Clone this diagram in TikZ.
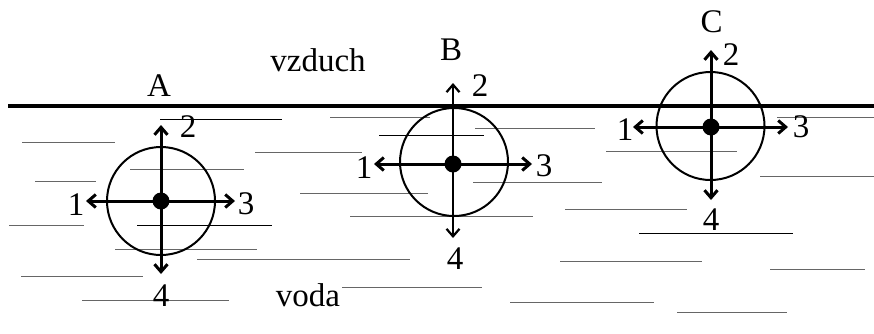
\documentclass[tikz,border=0pt]{standalone}
\usepackage{fontspec}
\setmainfont{Liberation Serif}
\usetikzlibrary{arrows.meta}

\begin{document}
\begin{tikzpicture}[
    x=1pt, y=-1pt,
    font=\fontsize{33}{36}\selectfont,
    >={Straight Barb[length=7.5pt,width=13pt]},
    tag/.style={anchor=base, inner sep=0pt},
    water/.style={draw=black!60, line width=1pt},
    darkwater/.style={draw=black, line width=0.9pt},
    surface/.style={draw=black, line width=3.2pt},
    bubble/.style={circle, draw=black, line width=2pt, minimum size=108pt, inner sep=0pt},
    dot/.style={circle, fill=black, minimum size=17pt, inner sep=0pt},
    force/.style={->, line width=3pt},
    thinforce/.style={->, line width=2.2pt}
]
    \useasboundingbox (0,0) rectangle (874,333);

    % water
    \draw[darkwater] (160,119.3) -- (282,119.3);
    \draw[water] (22,142.7) -- (115,142.7);
    \draw[water] (255,152.7) -- (362,152.7);
    \draw[water] (130,169) -- (244,169);
    \draw[water] (35,181.7) -- (96,181.7);
    \draw[water] (9,225) -- (84,225);
    \draw[darkwater] (137,225) -- (272,225);
    \draw[water] (115,249) -- (257,249);
    \draw[water] (197,259.3) -- (410,259.3);
    \draw[water] (21,276.7) -- (143,276.7);
    \draw[water] (82,300.5) -- (229,300.5);
    \draw[water] (330,117) -- (430,117);
    \draw[water] (475,128.8) -- (595,128.8);
    \draw[darkwater] (379,135.3) -- (484,135.3);
    \draw[water] (300,193.3) -- (428,193.3);
    \draw[water] (473,182.5) -- (602,182.5);
    \draw[water] (350,216.7) -- (533,216.7);
    \draw[water] (565,209.7) -- (687,209.7);
    \draw[water] (560,261.2) -- (702,261.2);
    \draw[water] (342,287.5) -- (482,287.5);
    \draw[water] (510,302) -- (654,302);
    \draw[water] (606,151.7) -- (737,151.7);
    \draw[water] (777,117.3) -- (874,117.3);
    \draw[water] (760,176.7) -- (874,176.7);
    \draw[darkwater] (639,233.3) -- (793,233.3);
    \draw[water] (770,269.3) -- (865,269.3);
    \draw[water] (677,312.7) -- (787,312.7);

    % surface
    \coordinate (shoreL) at (8,106);
    \coordinate (shoreR) at (874,106);
    \draw[surface] (shoreL) -- (shoreR);

    \node[tag] (air) at (318,71.7) {vzduch};
    \node[tag] (water) at (308,306) {voda};

    % A
    \node[dot] (a) at (161,201) {};
    \node[bubble] (ringA) at (a) {};
    \coordinate (a1) at (86,201);
    \coordinate (a2) at (161,125);
    \coordinate (a3) at (235,201);
    \coordinate (a4) at (161,274);
    \draw[force] (a.center) -- (a1);
    \draw[force] (a.center) -- (a2);
    \draw[force] (a.center) -- (a3);
    \draw[force] (a.center) -- (a4);
    \node[tag] (nameA) at (159,96.7) {A};
    \node[tag] (tagA1) at (76,215) {1};
    \node[tag] (tagA2) at (188,137.7) {2};
    \node[tag] (tagA3) at (246,214.5) {3};
    \node[tag] (tagA4) at (161,306.7) {4};

    % B
    \node[dot] (b) at (453,164) {};
    \node[bubble] (ringB) at (454,162) {};
    \coordinate (b1) at (374,164);
    \coordinate (b2) at (453,83);
    \coordinate (b3) at (532,164);
    \coordinate (b4) at (453,238);
    \draw[force] (b.center) -- (b1);
    \draw[thinforce] (b.center) -- (b2);
    \draw[force] (b.center) -- (b3);
    \draw[thinforce] (b.center) -- (b4);
    \node[tag] (nameB) at (451,60.7) {B};
    \node[tag] (tagB1) at (364,178.3) {1};
    \node[tag] (tagB2) at (480,96.7) {2};
    \node[tag] (tagB3) at (544,176.5) {3};
    \node[tag] (tagB4) at (455,269.3) {4};

    % C
    \node[dot] (c) at (711,127) {};
    \node[bubble] (ringC) at (710.5,126) {};
    \coordinate (c1) at (633,127);
    \coordinate (c2) at (711,50);
    \coordinate (c3) at (788,127);
    \coordinate (c4) at (711,200);
    \draw[force] (c.center) -- (c1);
    \draw[force] (c.center) -- (c2);
    \draw[force] (c.center) -- (c3);
    \draw[force] (c.center) -- (c4);
    \node[tag] (nameC) at (711.7,32.7) {C};
    \node[tag] (tagC1) at (625,140) {1};
    \node[tag] (tagC2) at (731,65) {2};
    \node[tag] (tagC3) at (801,137) {3};
    \node[tag] (tagC4) at (711,230) {4};

\end{tikzpicture}
\end{document}
